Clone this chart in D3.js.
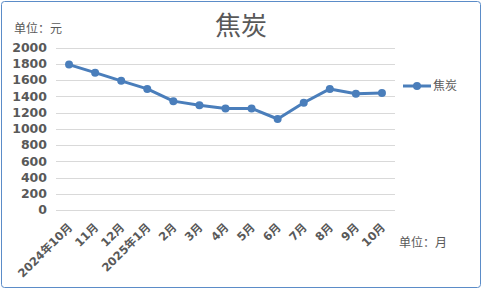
<!DOCTYPE html>
<html>
<head>
<meta charset="utf-8">
<script src="https://cdn.jsdelivr.net/npm/d3@7/dist/d3.min.js"></script>
<style>
  body { margin: 0; background: #fff; }
  svg { display: block; }
</style>
</head>
<body>
<script>
const months = ['2024年10月', '11月', '12月', '2025年1月', '2月', '3月', '4月', '5月', '6月', '7月', '8月', '9月', '10月'];
const prices = [1790, 1690, 1590, 1490, 1340, 1290, 1250, 1250, 1120, 1320, 1490, 1430, 1440];
const yTicks = [0, 200, 400, 600, 800, 1000, 1200, 1400, 1600, 1800, 2000];
const seriesName = '焦炭';

const W = 482, H = 290;
const plot = { left: 56, right: 395, top: 47.5, bottom: 210 };
const lineColor = '#4a7ebb';
const textColor = '#595959';

const svg = d3.select('body').append('svg')
  .attr('width', W).attr('height', H);

svg.append('rect')
  .attr('x', 1.5).attr('y', 1.5)
  .attr('width', W - 3).attr('height', H - 4)
  .attr('rx', 3)
  .attr('fill', '#fff')
  .attr('stroke', '#5b8cc8')
  .attr('stroke-width', 1);

const x = d3.scaleBand().domain(months).range([plot.left, plot.right]);
const y = d3.scaleLinear().domain([0, 2000]).range([plot.bottom, plot.top]);

// grid lines
svg.append('g')
  .selectAll('line')
  .data(yTicks)
  .enter()
  .append('line')
  .attr('x1', plot.left).attr('x2', plot.right)
  .attr('y1', d => Math.round(y(d)) + 0.5)
  .attr('y2', d => Math.round(y(d)) + 0.5)
  .attr('stroke', '#d9d9d9')
  .attr('stroke-width', 1);

// y axis labels
svg.append('g')
  .selectAll('text')
  .data(yTicks)
  .enter()
  .append('text')
  .attr('x', 47)
  .attr('y', d => y(d))
  .attr('dy', '0.35em')
  .attr('text-anchor', 'end')
  .style('font-family', 'DejaVu Sans')
  .style('font-weight', 'bold')
  .style('font-size', '12.5px')
  .attr('fill', textColor)
  .text(d => d);

// x axis labels
svg.append('g')
  .selectAll('text')
  .data(months)
  .enter()
  .append('text')
  .attr('transform', d => `translate(${x(d) + x.bandwidth() / 2 + 4}, ${plot.bottom + 18}) rotate(-45)`)
  .attr('text-anchor', 'end')
  .style('font-family', 'DejaVu Sans, Noto Sans CJK SC')
  .style('font-weight', 'bold')
  .style('font-size', '11.5px')
  .attr('fill', textColor)
  .text(d => d);

const cx = d => x(d) + x.bandwidth() / 2;

const line = d3.line()
  .x((d, i) => cx(months[i]))
  .y(d => y(d));

svg.append('path')
  .datum(prices)
  .attr('d', line)
  .attr('fill', 'none')
  .attr('stroke', lineColor)
  .attr('stroke-width', 3)
  .attr('stroke-linejoin', 'round');

svg.append('g')
  .selectAll('circle')
  .data(prices)
  .enter()
  .append('circle')
  .attr('cx', (d, i) => cx(months[i]))
  .attr('cy', d => y(d))
  .attr('r', 4)
  .attr('fill', lineColor);

// title
svg.append('text')
  .attr('x', 241).attr('y', 35)
  .attr('text-anchor', 'middle')
  .style('font-family', 'Noto Sans CJK SC')
  .style('font-size', '26px')
  .attr('fill', textColor)
  .text(seriesName);

svg.append('text')
  .attr('x', 14).attr('y', 33)
  .style('font-family', 'Noto Sans CJK SC')
  .style('font-size', '12px')
  .attr('fill', textColor)
  .text('单位：元');

svg.append('text')
  .attr('x', 399).attr('y', 247)
  .style('font-family', 'Noto Sans CJK SC')
  .style('font-size', '12px')
  .attr('fill', textColor)
  .text('单位：月');

// legend
const legend = svg.append('g').attr('transform', 'translate(403, 86)');
legend.append('line')
  .attr('x1', 0).attr('x2', 28)
  .attr('y1', 0).attr('y2', 0)
  .attr('stroke', lineColor)
  .attr('stroke-width', 3);
legend.append('circle')
  .attr('cx', 14).attr('cy', 0).attr('r', 4)
  .attr('fill', lineColor);
legend.append('text')
  .attr('x', 30).attr('y', 0).attr('dy', '0.35em')
  .style('font-family', 'Noto Sans CJK SC')
  .style('font-size', '12px')
  .attr('fill', textColor)
  .text(seriesName);
</script>
</body>
</html>
